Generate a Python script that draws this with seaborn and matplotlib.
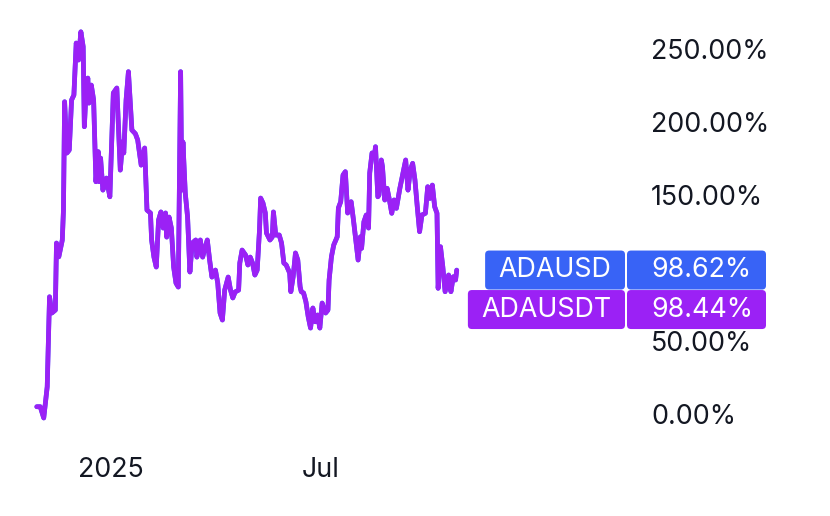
import matplotlib
matplotlib.use("Agg")
import matplotlib.pyplot as plt
from matplotlib.patches import FancyBboxPatch
from matplotlib.transforms import IdentityTransform
import seaborn as sns
import pandas as pd

# days counted from 2025-01-01
days_from_2025 = [
    -64, -61, -58, -55, -53, -51, -48, -47, -45, -42, -41, -40, -38, -36, -34, -32,
    -30, -28, -26, -24, -23, -22, -20, -19, -17, -15, -13, -11, -10, -9, -7, -4, -1,
    2, 5, 8, 10, 11, 13, 15, 18, 21, 23, 26, 29, 31, 34, 35, 37, 39, 41, 43, 45, 47,
    48, 50, 52, 54, 56, 58, 60, 61, 62, 64, 66, 68, 70, 73, 74, 77, 79, 81, 83, 85,
    87, 90, 92, 94, 96, 98, 101, 103, 105, 107, 110, 111, 113, 116, 118, 120, 122,
    124, 126, 128, 129, 131, 133, 134, 137, 139, 140, 142, 145, 147, 149, 151, 154,
    155, 157, 159, 161, 163, 164, 166, 168, 170, 172, 174, 176, 178, 180, 182, 185,
    187, 188, 190, 192, 195, 196, 198, 200, 202, 204, 207, 209, 211, 213, 215, 216,
    218, 220, 222, 223, 225, 227, 228, 230, 231, 233, 234, 236, 238, 240, 242, 244,
    246, 249, 251, 254, 256, 258, 260, 262, 264, 266, 268, 271, 273, 275, 277, 279,
    281, 282, 284, 286, 288, 291, 293, 295, 297, 298,
]

# percent change, ADAUSDT
adausdt = [
    5.0, 5.0, -2.7, 18.7, 80.3, 69.2, 71.2, 117.1, 107.7, 119.2, 139.7, 213.9, 178.8,
    180.8, 215.1, 218.5, 254.1, 242.5, 261.8, 251.6, 196.8, 213.0, 230.1, 213.0, 225.3,
    215.1, 159.1, 179.7, 159.1, 175.3, 153.4, 161.6, 148.8,
    219.9, 223.3, 167.1, 186.5, 178.8, 215.1, 234.5, 194.5, 192.0, 187.7, 170.5, 182.2,
    139.7, 137.7, 119.2, 107.5, 100.7, 132.9, 138.4, 127.4, 137.7,
    121.2, 134.9, 127.4, 100.7, 89.7, 87.0, 234.5, 153.4, 186.3, 151.4, 134.9, 97.3,
    117.1, 119.2, 107.5, 119.2, 107.5, 113.7, 119.2, 105.5,
    93.8, 98.6, 89.7, 69.2, 64.4, 84.9, 93.8, 84.9, 79.5, 83.6, 84.9, 103.4, 112.3,
    108.9, 102.1, 107.5, 103.4,
    95.2, 98.6, 126.0, 147.9, 144.5, 137.7, 124.0, 119.2, 121.2, 138.4, 122.6, 122.6,
    117.1, 103.4, 102.1, 96.6,
    83.8, 94.0, 110.3, 105.5, 87.2, 83.8, 82.9, 76.9, 66.6, 58.9, 72.6, 63.2, 67.8,
    58.9, 76.0, 69.2,
    71.2, 91.8, 107.7, 115.8, 121.4, 141.1, 145.4, 163.7, 166.0, 137.7, 145.4, 132.9,
    119.2, 105.5, 121.4, 113.5,
    131.7, 136.3, 127.4, 165.1, 178.8, 176.2, 183.1, 148.8, 150.0, 174.0, 169.4, 146.6,
    154.6, 146.6, 137.5, 146.6,
    140.9, 154.6, 162.5, 174.0, 153.4, 167.1, 171.7, 160.3, 142.0, 124.9, 136.3, 137.5,
    155.7, 147.7, 156.8, 142.0,
    137.5, 86.1, 114.6, 100.9, 83.8, 95.2, 83.8, 94.0, 91.8, 98.44,
]
# ADAUSD runs right under ADAUSDT, only the last print differs
adausd = adausdt[:-1] + [98.62]

symbols = ["ADAUSD", "ADAUSDT"]
last_values = [98.62, 98.44]
y_ticks = [0, 50, 100, 150, 200, 250]
x_tick_dates = ["2025-01-01", "2025-07-01"]
x_tick_labels = ["2025", "Jul"]

BLUE = "#3863F6"
PURPLE = "#9B21F5"
INK = "#131722"
FS = 19.3

sns.set_theme(style="white")
plt.rcParams["font.family"] = ["Inter", "DejaVu Sans"]

base = pd.Timestamp("2025-01-01")
dates = base + pd.to_timedelta(days_from_2025, unit="D")
n = len(dates)
df = pd.DataFrame({
    "date": list(dates) * 2,
    "change": adausd + adausdt,
    "symbol": ["ADAUSD"] * n + ["ADAUSDT"] * n,
})

fig = plt.figure(figsize=(8.3, 5.16), dpi=100)
ax = fig.add_axes([0, 76 / 516, 640 / 830, 440 / 516])

sns.lineplot(data=df, x="date", y="change", hue="symbol", hue_order=symbols,
             palette={"ADAUSD": BLUE, "ADAUSDT": PURPLE}, estimator=None,
             linewidth=3.4, legend=False, ax=ax,
             solid_capstyle="round", solid_joinstyle="round")

ax.set_xlim(base + pd.Timedelta(days=-95.7), base + pd.Timedelta(days=456))
ax.set_ylim(-17.8, 283.6)

ax.yaxis.tick_right()
ax.set_yticks(y_ticks)
ax.set_yticklabels([f"{v:.2f}%" for v in y_ticks])
ax.set_xticks(pd.to_datetime(x_tick_dates))
ax.set_xticklabels(x_tick_labels)
ax.tick_params(axis="both", length=0, labelsize=FS, labelcolor=INK)
ax.tick_params(axis="y", pad=8)
ax.tick_params(axis="x", pad=12)
ax.set_xlabel("")
ax.set_ylabel("")
ax.grid(False)
sns.despine(ax=ax, left=True, bottom=True)

# last-value tags pinned on the price scale
renderer = fig.canvas.get_renderer()
ident = IdentityTransform()
y0 = ax.transData.transform((0, last_values[0]))[1]
for i, (name, val, color) in enumerate(zip(symbols, last_values, [BLUE, PURPLE])):
    yc = y0 - i * 39.5
    val_box = FancyBboxPatch((627, yc - 19.5), 139, 39,
                             boxstyle="round,pad=0,rounding_size=4",
                             fc=color, ec="none", transform=ident)
    fig.add_artist(val_box)
    t = fig.text(0, yc, name, transform=ident, ha="center", va="center",
                 color="white", fontsize=FS)
    w = t.get_window_extent(renderer).width
    left = 625 - (w + 27)
    name_box = FancyBboxPatch((left, yc - 19.5), w + 27, 39,
                              boxstyle="round,pad=0,rounding_size=4",
                              fc=color, ec="none", transform=ident)
    fig.add_artist(name_box)
    t.set_x(left + (w + 27) / 2)
    t.set_zorder(5)
    fig.text(651, yc, f"{val:.2f}%", transform=ident, ha="left", va="center",
             color="white", fontsize=FS, zorder=5)

fig.savefig("out.png", dpi=100)
